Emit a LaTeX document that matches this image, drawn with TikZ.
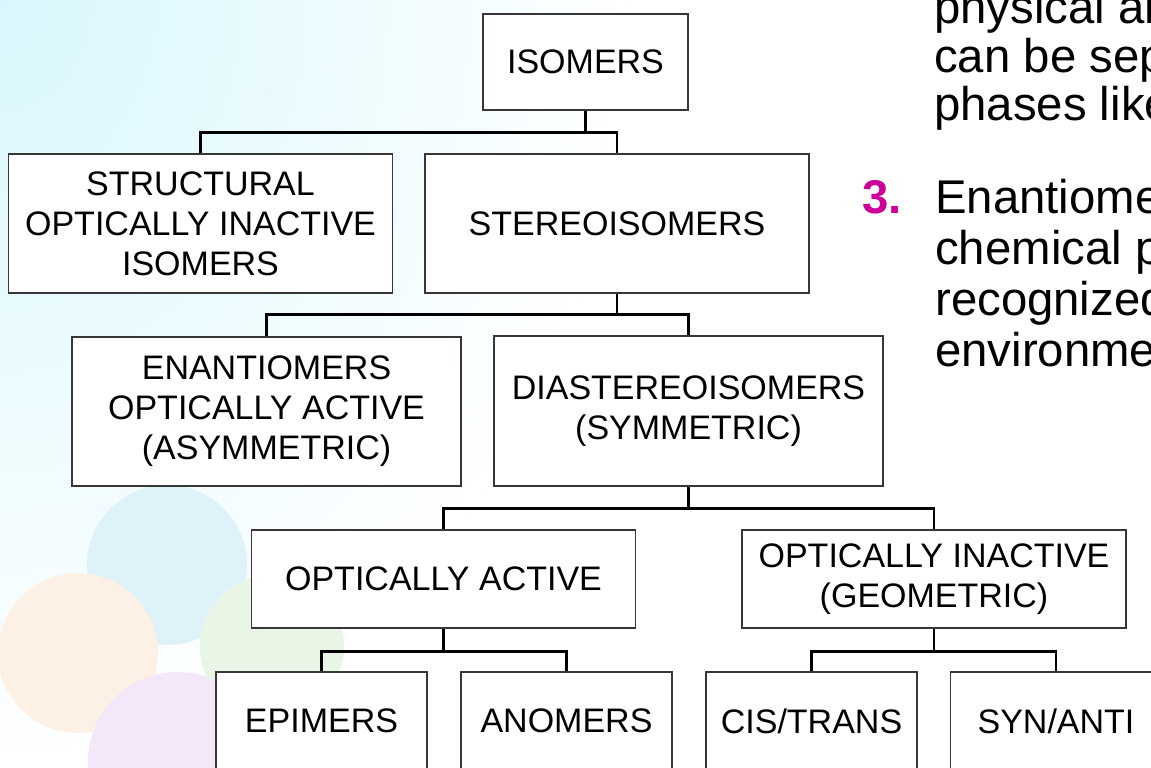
\documentclass[tikz,border=0pt]{standalone}
\usepackage{fontspec}
\setmainfont{Liberation Sans}
\definecolor{boxline}{RGB}{55,55,55}
\definecolor{numcol}{RGB}{204,0,153}
\definecolor{glow}{RGB}{216,247,253}
\definecolor{bblue}{RGB}{222,242,249}
\definecolor{borange}{RGB}{253,240,229}
\definecolor{bgreen}{RGB}{233,246,229}
\definecolor{bpurple}{RGB}{243,231,249}
\begin{document}
\begin{tikzpicture}[x=0.75pt,y=-0.75pt,
  box/.style={draw=boxline, line width=0.8pt, fill=white, inner sep=0pt, align=center,
    font=\fontsize{25.5pt}{30pt}\selectfont},
  wide/.style={minimum width=288pt},
  narrow/.style={minimum width=158.25pt, minimum height=73.5pt},
  conn/.style={draw=black, line width=2pt},
  para/.style={anchor=base west, inner sep=0pt, font=\fontsize{35.5pt}{38pt}\selectfont},
  num/.style={anchor=base west, inner sep=0pt, text=numcol, font=\fontsize{35.5pt}{38pt}\selectfont\bfseries}]
\useasboundingbox (0,0) rectangle (1151,767);
\clip (0,0) rectangle (1151,767);
\fill[white] (0,0) rectangle (1151,767);
% background glow and bubbles
\shade[inner color=glow, outer color=white] (0,0) ellipse [x radius=640, y radius=780];
\fill[bblue] (167,565) circle [radius=80];
\fill[borange] (78,653) circle [radius=80];
\fill[bgreen] (272,647) circle [radius=72];
\fill[bpurple] (178,762) circle [radius=90];

% boxes
\node[box, minimum width=153.75pt, minimum height=72pt] (isomers) at (585.5,62) {ISOMERS};
\node[box, wide, minimum height=104.25pt] (struct) at (200.5,223.5) {STRUCTURAL\\OPTICALLY INACTIVE\\ISOMERS};
\node[box, wide, minimum height=104.25pt] (stereo) at (617,223.5) {STEREOISOMERS};
\node[box, minimum width=291.75pt, minimum height=111.75pt] (enant) at (266.5,411.5) {ENANTIOMERS\\OPTICALLY ACTIVE\\(ASYMMETRIC)};
\node[box, minimum width=291.75pt, minimum height=112.5pt] (dia) at (688.5,411) {DIASTEREOISOMERS\\(SYMMETRIC)};
\node[box, wide, minimum height=73.5pt] (oa) at (443.5,579) {OPTICALLY ACTIVE};
\node[box, wide, minimum height=73.5pt] (oi) at (934,579) {OPTICALLY INACTIVE\\(GEOMETRIC)};
\node[box, narrow] (epi) at (321.5,721) {EPIMERS};
\node[box, narrow] (ano) at (566.5,721) {ANOMERS};
\node[box, narrow] (cis) at (811.5,721) {CIS/TRANS};
\node[box, narrow] (syn) at (1056,721) {SYN/ANTI};

% connectors
\draw[conn] (isomers.south) -- ++(0,22) -| (struct.north);
\draw[conn] (isomers.south) -- ++(0,22) -| (stereo.north);
\draw[conn] (stereo.south) -- ++(0,21) -| (enant.north);
\draw[conn] (stereo.south) -- ++(0,21) -| (dia.north);
\draw[conn] (dia.south) -- ++(0,22) -| (oa.north);
\draw[conn] (dia.south) -- ++(0,22) -| (oi.north);
\draw[conn] (oa.south) -- ++(0,23) -| (epi.north);
\draw[conn] (oa.south) -- ++(0,23) -| (ano.north);
\draw[conn] (oi.south) -- ++(0,23) -| (cis.north);
\draw[conn] (oi.south) -- ++(0,23) -| (syn.north);

% side text
\node[para] (t1) at (934,24) {physical an};
\node[para] (t2) at (934,72) {can be sep};
\node[para] (t3) at (934,120) {phases like};
\node[num] (n3) at (862,213) {3.};
\node[para] (t4) at (935,213) {Enantiome};
\node[para] (t5) at (935,264) {chemical p};
\node[para] (t6) at (935,315) {recognized};
\node[para] (t7) at (935,366) {environme};
\end{tikzpicture}
\end{document}
